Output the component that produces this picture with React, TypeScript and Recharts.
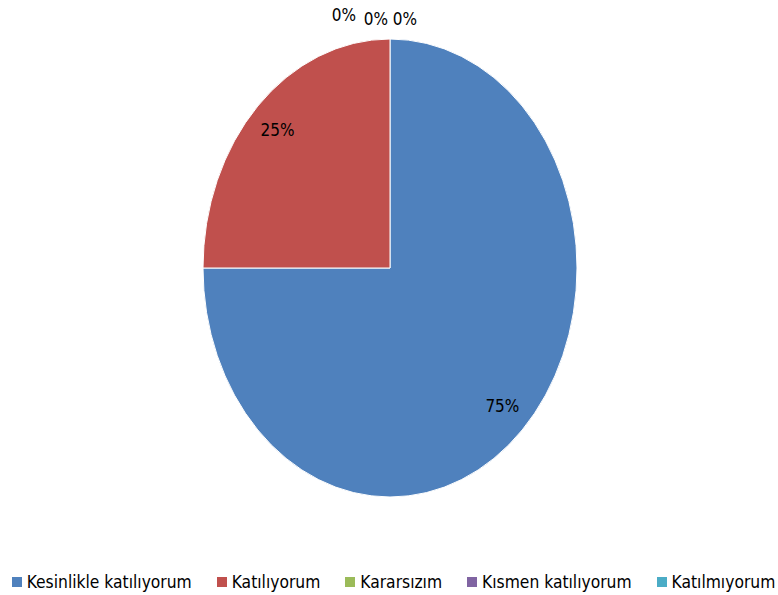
import React from 'react';
import { PieChart, Pie, Cell, Legend } from 'recharts';

const categories = ['Kesinlikle katılıyorum', 'Katılıyorum', 'Kararsızım', 'Kısmen katılıyorum', 'Katılmıyorum'];
const values = [75, 25, 0, 0, 0];
const colors = ['#4F81BD', '#C0504D', '#9BBB59', '#8064A2', '#4BACC6'];

const data = categories.map((name, i) => ({ name, value: values[i] }));

const RX = 187;
const RY = 229;
const FONT = '"Liberation Sans Narrow", "DejaVu Sans Condensed", Arial, sans-serif';
const RAD = Math.PI / 180;

const EllipseSector = (props: any) => {
  const { cx, cy, startAngle, endAngle, fill } = props;
  const span = Math.abs(endAngle - startAngle);
  if (span <= 0.0001) return null;
  const sx = cx + RX * Math.cos(startAngle * RAD);
  const sy = cy - RY * Math.sin(startAngle * RAD);
  const ex = cx + RX * Math.cos(endAngle * RAD);
  const ey = cy - RY * Math.sin(endAngle * RAD);
  const large = span > 180 ? 1 : 0;
  const sweep = endAngle < startAngle ? 1 : 0;
  const d = `M ${cx} ${cy} L ${sx} ${sy} A ${RX} ${RY} 0 ${large} ${sweep} ${ex} ${ey} Z`;
  return <path d={d} fill={fill} stroke="#ffffff" strokeWidth={1} />;
};

const zeroShift = [0, 0, -46, -14, 15];
const zeroLift = [0, 0, 24, 20, 20];

const renderLabel = (props: any) => {
  const { cx, cy, midAngle, percent, index } = props;
  const pct = Math.round(percent * 100);
  let x: number;
  let y: number;
  if (pct > 0) {
    const k = 0.85;
    x = cx + k * RX * Math.cos(midAngle * RAD);
    y = cy - k * RY * Math.sin(midAngle * RAD);
  } else {
    x = cx + zeroShift[index];
    y = cy - RY - zeroLift[index];
  }
  return (
    <text x={x} y={y} textAnchor="middle" dominantBaseline="central" fill="#000000"
      style={{ fontFamily: FONT, fontSize: 17 }}>
      {`${pct}%`}
    </text>
  );
};

const renderLegend = () => (
  <div style={{ display: 'flex', justifyContent: 'center', paddingLeft: 9, fontFamily: FONT, fontSize: 17.3, color: '#000' }}>
    {categories.map((c, i) => (
      <div key={c} style={{ display: 'flex', alignItems: 'center', marginRight: i < categories.length - 1 ? 25 : 0 }}>
        <span style={{ display: 'inline-block', width: 10, height: 10, background: colors[i], marginRight: 5 }} />
        <span>{c}</span>
      </div>
    ))}
  </div>
);

export default function App() {
  return (
    <div style={{ position: 'absolute', left: 0, top: 0, background: '#fff' }}>
      <PieChart width={778} height={595} margin={{ top: 0, right: 0, bottom: 0, left: 0 }}>
        <Pie
          data={data}
          dataKey="value"
          nameKey="name"
          cx={390}
          cy={268}
          outerRadius={RY}
          startAngle={90}
          endAngle={-270}
          shape={EllipseSector}
          label={renderLabel}
          labelLine={false}
          isAnimationActive={false}
        >
          {data.map((d, i) => (
            <Cell key={d.name} fill={colors[i]} />
          ))}
        </Pie>
        <Legend content={renderLegend} verticalAlign="bottom" wrapperStyle={{ bottom: 3, left: 0, width: 778 }} />
      </PieChart>
    </div>
  );
}
